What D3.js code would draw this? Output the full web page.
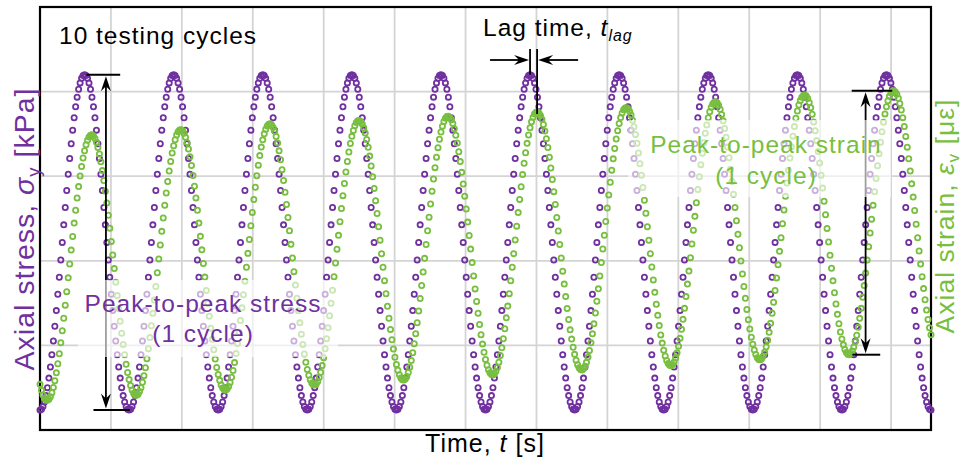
<!DOCTYPE html>
<html><head><meta charset="utf-8">
<script src="https://cdn.jsdelivr.net/npm/d3@7"></script>
<style>
html,body{margin:0;padding:0;background:#fff;}
svg{display:block;}
text{font-family:"Liberation Sans",Arial,Helvetica,sans-serif;}
</style></head><body>
<svg id="chart" width="965" height="466"></svg>
<script>
// Cyclic triaxial record: 10 haversine load cycles, axial stress (left axis)
// and the lagging axial strain response (right axis).
const cycles        = [1, 2, 3, 4, 5, 6, 7, 8, 9, 10];
const loadPeriod    = 0.1;   // s per cycle
const samplesPerCycle = 60;  // logger samples per cycle
const stressPeaks   = [84.0, 84.0, 84.0, 84.0, 84.0, 84.0, 84.0, 84.0, 84.0, 84.0];          // kPa
const stressTroughs = [4.7, 4.7, 4.7, 4.7, 4.7, 4.7, 4.7, 4.7, 4.7, 4.7, 4.7];           // kPa
const strainPeaks   = [349, 355, 362, 366, 371, 376, 381, 388, 396, 401];                // με
const strainTroughs = [35, 41, 47, 53, 59, 65, 71, 76, 83, 89, 94];                      // με
const lagTime       = 0.0079; // s, strain behind stress
const gridTimes     = [0.0796, 0.1592, 0.2388, 0.3184, 0.398, 0.4776, 0.5572, 0.6368, 0.7164, 0.796, 0.8756, 0.9552];
const stressGrid    = [20, 40, 60, 80];

const purple = "#7030A0", green = "#78BF40";
const svg = d3.select("#chart");
const plot = {left: 40, right: 931, top: 7, bottom: 430};

const x = d3.scaleLinear().domain([0, cycles.length * loadPeriod]).range([plot.left, plot.right]);
const yStress = d3.scaleLinear().domain([0, 100]).range([plot.bottom, plot.top]);
const yStrain = d3.scaleLinear().domain([0, 500]).range([plot.bottom, plot.top]);

// haversine waveform running trough -> peak -> next trough within each cycle
function wave(t, offset, peaks, troughs) {
  const phase = (t - offset) / loadPeriod;
  let k = Math.floor(phase);
  const f = phase - k;
  if (k < 0) { // before the first trough: falling towards troughs[0]
    const u = (f - 0.5) / 0.5;
    return peaks[0] + (troughs[0] - peaks[0]) * (1 - Math.cos(Math.PI * u)) / 2;
  }
  k = Math.min(k, peaks.length - 1);
  if (f < 0.5) {
    const u = f / 0.5;
    return troughs[k] + (peaks[k] - troughs[k]) * (1 - Math.cos(Math.PI * u)) / 2;
  }
  const u = (f - 0.5) / 0.5;
  return peaks[k] + (troughs[k + 1] - peaks[k]) * (1 - Math.cos(Math.PI * u)) / 2;
}

const times = d3.range(0, cycles.length * samplesPerCycle + 1).map(i => i * loadPeriod / samplesPerCycle);
const stressPts = times.map(t => ({t, v: wave(t, 0, stressPeaks, stressTroughs)}));
const strainPts = times.map(t => ({t, v: wave(t, lagTime, strainPeaks, strainTroughs)}));

// grid
const grid = svg.append("g").attr("stroke", "#d4d4d4").attr("stroke-width", 1.8);
grid.selectAll("line.v").data(gridTimes).join("line")
  .attr("x1", d => x(d)).attr("x2", d => x(d)).attr("y1", plot.top).attr("y2", plot.bottom);
grid.selectAll("line.h").data(stressGrid).join("line")
  .attr("x1", plot.left).attr("x2", plot.right).attr("y1", d => yStress(d)).attr("y2", d => yStress(d));

// frame
svg.append("rect").attr("x", plot.left).attr("y", plot.top)
  .attr("width", plot.right - plot.left).attr("height", plot.bottom - plot.top)
  .attr("fill", "none").attr("stroke", "#000").attr("stroke-width", 2.2);

// data markers
svg.append("g").selectAll("circle").data(stressPts).join("circle")
  .attr("cx", d => x(d.t)).attr("cy", d => yStress(d.v)).attr("r", 2.6)
  .attr("fill", "none").attr("stroke", purple).attr("stroke-width", 1.8);
svg.append("g").selectAll("circle").data(strainPts).join("circle")
  .attr("cx", d => x(d.t)).attr("cy", d => yStrain(d.v)).attr("r", 2.6)
  .attr("fill", "none").attr("stroke", green).attr("stroke-width", 1.8);

// annotation helpers
const ann = svg.append("g").attr("stroke", "#000").attr("fill", "#000");
function seg(x1, y1, x2, y2, w) {
  ann.append("line").attr("x1", x1).attr("y1", y1).attr("x2", x2).attr("y2", y2)
    .attr("stroke-width", w || 1.8).attr("fill", "none");
}
function arrow(x1, y1, x2, y2) {
  const a = Math.atan2(y2 - y1, x2 - x1);
  const back = 9;
  seg(x1, y1, x2 - back * Math.cos(a), y2 - back * Math.sin(a), 1.8);
  ann.append("path").attr("d", "M0,0 L-15,-5 L-10,0 L-15,5 Z")
    .attr("stroke", "none")
    .attr("transform", `translate(${x2},${y2}) rotate(${a * 180 / Math.PI})`);
}

// peak-to-peak stress (first cycle)
const sx = x(0.074);
const sTop = yStress(stressPeaks[0]), sBot = yStress(stressTroughs[1]);
seg(x(0.052), sTop, x(0.09), sTop, 2);
seg(x(0.06), sBot, x(0.101), sBot, 2);
arrow(sx, (sTop + sBot) / 2, sx, sTop + 1.5);
arrow(sx, (sTop + sBot) / 2, sx, sBot - 1.5);

// peak-to-peak strain (last cycle)
const ex = x(0.9266);
const eTop = yStrain(strainPeaks[9]), eBot = yStrain(strainTroughs[9]);
seg(x(0.911), eTop, x(0.9565), eTop, 2);
seg(x(0.9118), eBot, x(0.943), eBot, 2);
arrow(ex, (eTop + eBot) / 2, ex, eTop + 1.5);
arrow(ex, (eTop + eBot) / 2, ex, eBot - 1.5);

// lag time marker at the sixth peak
const pk = 5.5 * loadPeriod;
const lagY = 60;
seg(x(pk), 49, x(pk), yStress(stressPeaks[5]), 1.8);
seg(x(pk + lagTime), 49, x(pk + lagTime), yStrain(strainPeaks[5]) + 2, 1.8);
arrow(x(pk) - 40, lagY, x(pk) - 1, lagY);
arrow(x(pk + lagTime) + 41, lagY, x(pk + lagTime) + 1, lagY);

// translucent label backgrounds
svg.append("rect").attr("x", 78).attr("y", 280).attr("width", 260).attr("height", 77)
  .attr("fill", "#fff").attr("opacity", 0.62);
svg.append("rect").attr("x", 628).attr("y", 120).attr("width", 263).attr("height", 77)
  .attr("fill", "#fff").attr("opacity", 0.62);

// text
const fs = 24.5;
function label(xp, yp, anchor, color, size, parts, rot) {
  const t = svg.append("text").attr("text-anchor", anchor).attr("fill", color)
    .attr("font-size", size).attr("letter-spacing", 1)
    .attr("transform", `translate(${xp},${yp})` + (rot ? ` rotate(${rot})` : ""));
  parts.forEach(p => {
    const s = t.append("tspan").text(p.s);
    if (p.i) s.attr("font-style", "italic");
    if (p.sub) s.attr("font-size", size * 0.65).attr("dy", size * 0.2);
    if (p.up) s.attr("dy", -size * 0.2);
  });
  return t;
}
label(59, 44, "start", "#000", fs, [{s: "10 testing cycles"}]);
label(483, 36, "start", "#000", fs, [{s: "Lag time, "}, {s: "t", i: true}, {s: "lag", i: true, sub: true}]);
label(203, 312, "middle", purple, fs, [{s: "Peak-to-peak stress"}]);
label(203, 342, "middle", purple, fs, [{s: "(1 cycle)"}]);
label(766, 153, "middle", green, fs, [{s: "Peak-to-peak strain"}]);
label(766, 184, "middle", green, fs, [{s: "(1 cycle)"}]);
label(485, 452, "middle", "#000", 25, [{s: "Time, "}, {s: "t", i: true}, {s: " [s]"}]);
label(34, 229, "middle", purple, 28.5, [{s: "Axial stress, "}, {s: "σ", i: true}, {s: "y", sub: true}, {s: " [kPa]", up: true}], -90);
label(954, 216, "middle", green, 26.5, [{s: "Axial strain, "}, {s: "ε", i: true}, {s: "v", sub: true}, {s: " [με]", up: true}], -90);
</script>
</body></html>
